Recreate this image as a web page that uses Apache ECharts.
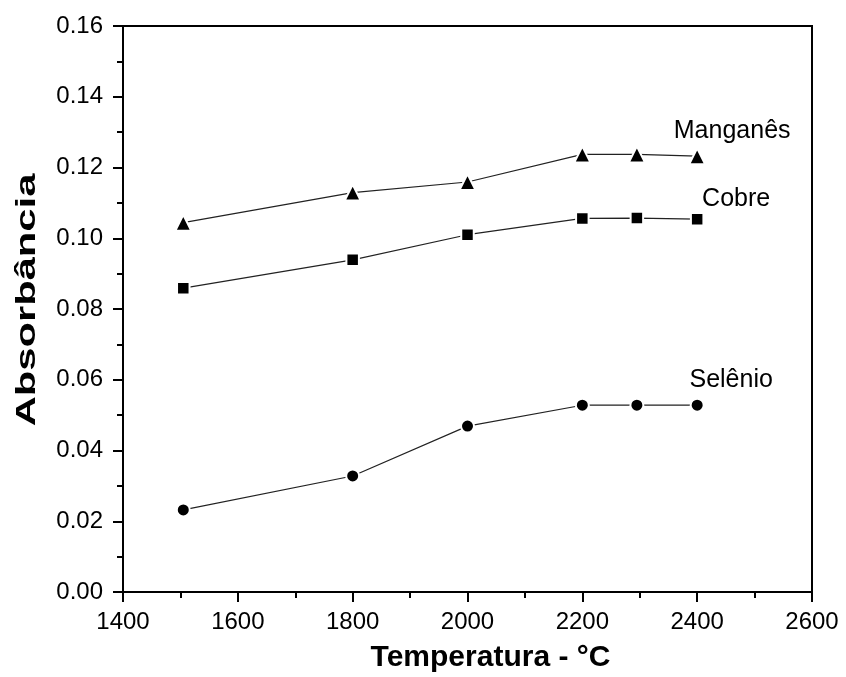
<!DOCTYPE html>
<html>
<head>
<meta charset="utf-8">
<script src="https://cdn.jsdelivr.net/npm/echarts@6/dist/echarts.min.js"></script>
<style>html,body{margin:0;padding:0;background:#fff}#c{width:846px;height:677px}</style>
</head>
<body>
<div id="c"></div>
<script>
const temperatures = [1505, 1800, 2000, 2200, 2295, 2400];
const selenio = [0.0232, 0.0328, 0.0469, 0.0528, 0.0528, 0.0528];
const cobre = [0.0859, 0.0939, 0.1010, 0.1056, 0.1057, 0.1054];
const manganes = [0.1044, 0.1129, 0.1159, 0.1237, 0.1237, 0.1232];
const seriesNames = ['Manganês', 'Cobre', 'Selênio'];
const xTitle = 'Temperatura - °C';
const yTitle = 'Absorbância';

const FONT = '"Liberation Sans", Arial, sans-serif';

function buildData(values, name, offset) {
  return values.map((v, i) => {
    const item = { value: [temperatures[i], v] };
    if (i === values.length - 1) {
      item.label = {
        show: true, formatter: name, position: 'inside', offset: offset,
        color: '#000', fontSize: 25, fontFamily: FONT,
        align: 'center', verticalAlign: 'middle', textBorderWidth: 0
      };
    }
    return item;
  });
}

function mkSeries(name, values, symbol, size, offset) {
  return {
    name: name, type: 'line', data: buildData(values, name, offset),
    symbol: symbol, symbolSize: size,
    lineStyle: { color: '#222', width: 1.2 },
    itemStyle: { color: '#000', borderColor: '#fff', borderWidth: 2 },
    emphasis: { disabled: true }, animation: false, z: 3
  };
}

const chart = echarts.init(document.getElementById('c'), null, { renderer: 'canvas' });
chart.setOption({
  backgroundColor: '#fff',
  animation: false,
  grid: { left: 123, right: 34, top: 26, bottom: 85, containLabel: false, outerBoundsMode: 'none',
          show: true, borderColor: '#000', borderWidth: 2, backgroundColor: 'transparent' },
  graphic: [{
    type: 'text', x: 27.5, y: 300, rotation: Math.PI / 2, scaleX: 1.49, scaleY: 1,
    style: { text: yTitle, font: 'bold 28px "Liberation Sans", Arial, sans-serif', fill: '#000', align: 'center', verticalAlign: 'middle' }
  }],
  xAxis: {
    type: 'value', min: 1400, max: 2600, interval: 200,
    name: xTitle, nameLocation: 'middle', nameGap: 51,
    nameTextStyle: { fontSize: 30, fontWeight: 'bold', fontFamily: FONT, color: '#000', padding: [0, 0, 0, 46] },
    axisLine: { show: true, lineStyle: { color: '#000', width: 2 } },
    axisTick: { show: true, inside: false, length: 10, lineStyle: { color: '#000', width: 2 } },
    minorTick: { show: true, splitNumber: 2, length: 6, lineStyle: { color: '#000', width: 2 } },
    axisLabel: { fontSize: 24, fontFamily: FONT, color: '#000', margin: 18, formatter: v => String(v) },
    splitLine: { show: false }
  },
  yAxis: {
    type: 'value', min: 0, max: 0.16, interval: 0.02,
    axisLine: { show: true, lineStyle: { color: '#000', width: 2 } },
    axisTick: { show: true, inside: false, length: 10, lineStyle: { color: '#000', width: 2 } },
    minorTick: { show: true, splitNumber: 2, length: 6, lineStyle: { color: '#000', width: 2 } },
    axisLabel: { fontSize: 24, fontFamily: FONT, color: '#000', margin: 20, formatter: v => v.toFixed(2) },
    splitLine: { show: false }
  },
  series: [
    mkSeries(seriesNames[0], manganes, 'triangle', 16, [35, -25]),
    mkSeries(seriesNames[1], cobre, 'rect', 12.5, [39, -20]),
    mkSeries(seriesNames[2], selenio, 'circle', 13, [34, -25])
  ]
});
</script>
</body>
</html>
